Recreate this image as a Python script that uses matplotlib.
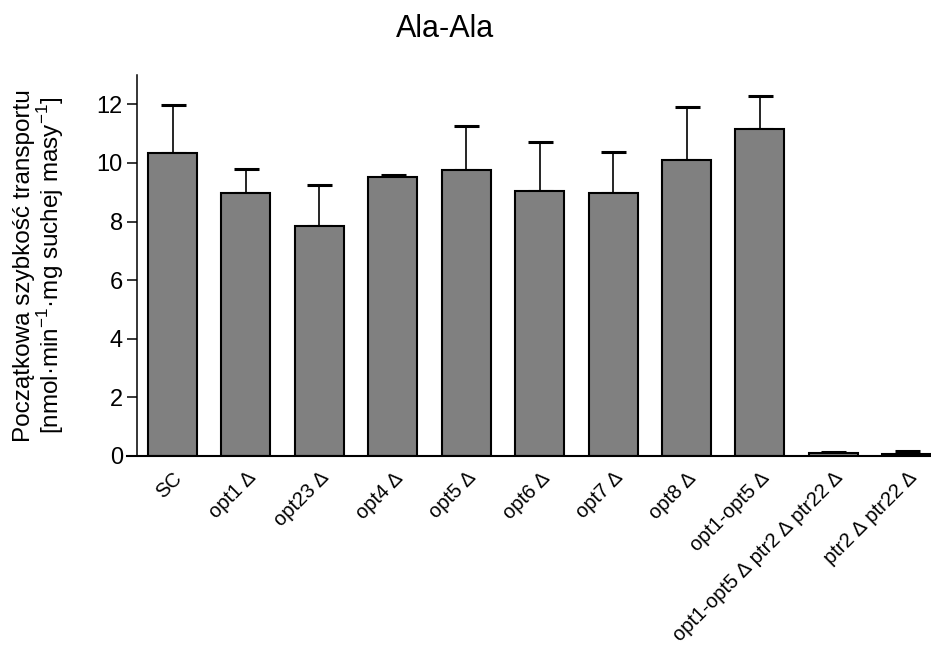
import matplotlib
matplotlib.use("Agg")
import matplotlib.pyplot as plt
import numpy as np

plt.rcParams['font.family'] = ['Liberation Sans', 'DejaVu Sans']
plt.rcParams['mathtext.fontset'] = 'custom'
plt.rcParams['mathtext.rm'] = 'Liberation Sans'

categories = ["SC", "opt1 \u2206", "opt23 \u2206", "opt4 \u2206", "opt5 \u2206", "opt6 \u2206",
              "opt7 \u2206", "opt8 \u2206", "opt1-opt5 \u2206",
              "opt1-opt5 \u2206 ptr2 \u2206 ptr22 \u2206", "ptr2 \u2206 ptr22 \u2206"]
values = [10.34, 8.96, 7.85, 9.52, 9.75, 9.05, 8.98, 10.11, 11.16, 0.10, 0.08]
errors = [1.63, 0.83, 1.39, 0.06, 1.52, 1.65, 1.38, 1.79, 1.12, 0.05, 0.09]
yticks = [0, 2, 4, 6, 8, 10, 12]

fig = plt.figure(figsize=(9.31, 6.48), dpi=100)
ax = fig.add_axes([137/931, (648-456)/648, (931-137)/931, (456-75)/648])

x = np.arange(len(categories))
ax.bar(x, values, width=0.667, color='#808080', edgecolor='black', linewidth=1.5, zorder=2)
ax.errorbar(x, values, yerr=[np.zeros(len(errors)), errors], fmt='none', ecolor='black',
            elinewidth=1.2, capsize=9, capthick=2.2, zorder=1)

ax.set_xlim(-0.484, 10.33)
ax.set_ylim(0, 13)
ax.set_yticks(yticks)
ax.set_yticklabels([str(t) for t in yticks], fontsize=17)
ax.set_xticks(x)
ax.set_xticklabels(categories, rotation=45, ha='right', va='top', rotation_mode='anchor', fontsize=14.5)
ax.tick_params(axis='x', length=0, pad=9)
ax.tick_params(axis='y', length=7.2, width=1.1, pad=3)

for s in ['top', 'right']:
    ax.spines[s].set_visible(False)
ax.spines['left'].set_linewidth(1.1)
ax.spines['bottom'].set_linewidth(1.5)
ax.spines['bottom'].set_bounds(-0.62, 10.33)

ax.set_ylabel("Początkowa szybkość transportu\n[nmol·min$^{-1}$·mg suchej masy$^{-1}$]",
              fontsize=17.5, linespacing=1.0)
ax.yaxis.set_label_coords(-0.089, 0.5)
fig.suptitle("Ala-Ala", fontsize=22, x=0.478, y=0.979)

fig.savefig("out.png", dpi=100)
